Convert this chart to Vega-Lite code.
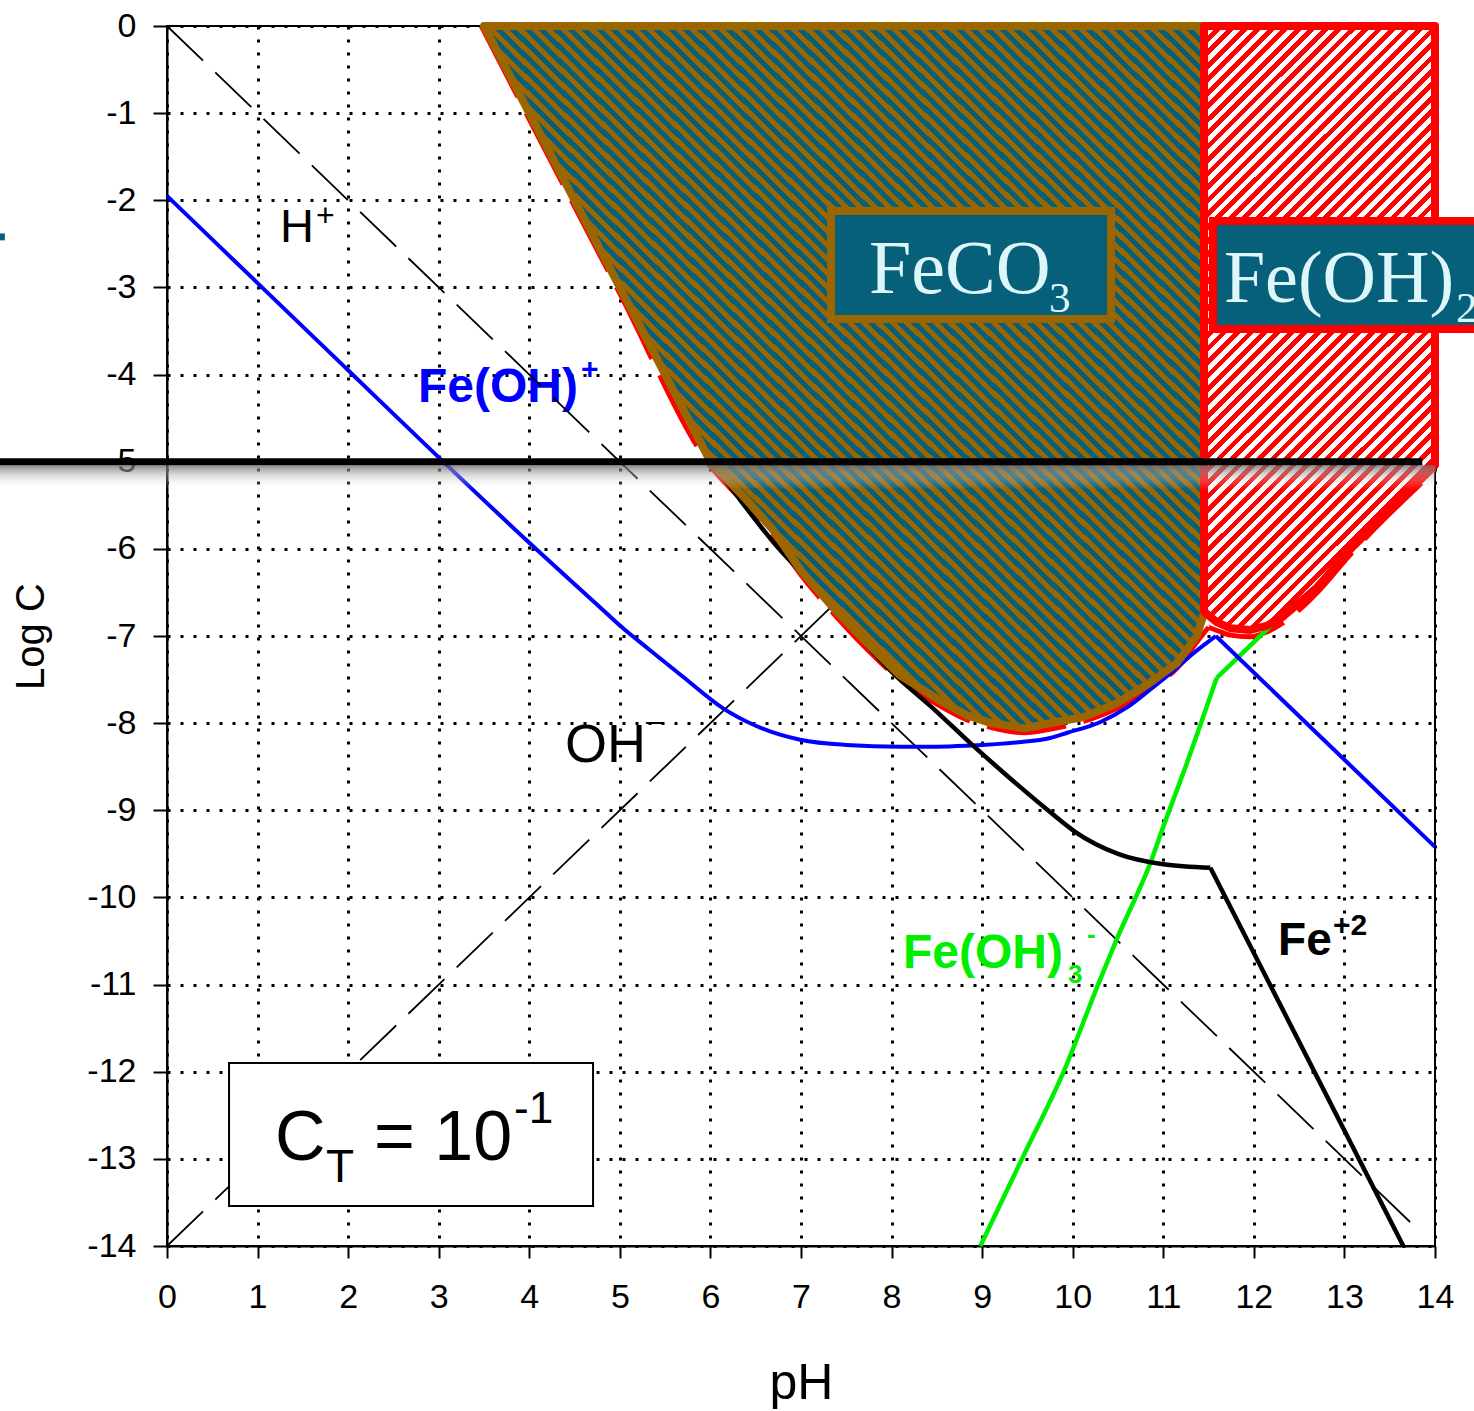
{
"$schema":"https://vega.github.io/schema/vega-lite/v6.json",
"width":1268,"height":1220,
"autosize":{"type":"none"},
"padding":{"left":167,"top":26,"right":39,"bottom":165},
"background":"white",
"config":{"view":{"stroke":"black","strokeWidth":2}},
"encoding":{
"x":{"field":"x","type":"quantitative","scale":{"domain":[0,14],"nice":false,"zero":false},
"axis":{"title":"pH","values":[0,1,2,3,4,5,6,7,8,9,10,11,12,13,14],"labelExpr":"'' + datum.value","labelFlush":false,"labelOverlap":false,"grid":true,"gridColor":"black","gridDash":[3,10],"gridWidth":3,"gridOpacity":1,"domainColor":"black","domainWidth":2,"tickColor":"black","tickWidth":2,"tickSize":12,"labelFont":"Liberation Sans","labelFontSize":34,"labelColor":"black","labelPadding":22,"titleFont":"Liberation Sans","titleFontSize":50,"titleFontWeight":"normal","titleColor":"black","titleX":634,"titleY":152,"titleBaseline":"alphabetic","titleAlign":"center"}},
"y":{"field":"y","type":"quantitative","scale":{"domain":[-14,0],"nice":false,"zero":false},
"axis":{"title":"Log C","values":[0,-1,-2,-3,-4,-5,-6,-7,-8,-9,-10,-11,-12,-13,-14],"labelExpr":"'' + datum.value","labelOverlap":false,"grid":true,"gridColor":"black","gridDash":[3,10],"gridWidth":3,"gridOpacity":1,"domainColor":"black","domainWidth":2,"tickColor":"black","tickWidth":2,"tickSize":14,"labelFont":"Liberation Sans","labelFontSize":34,"labelColor":"black","labelPadding":17,"titleFont":"Liberation Sans","titleFontSize":40,"titleFontWeight":"normal","titleColor":"black","titleX":-124,"titleY":610,"titleAngle":-90,"titleBaseline":"alphabetic","titleAlign":"center"}}
},
"layer":[
{"data":{"values":[{"x":1.248,"y":-2.479,"t":"H"}]},
"mark":{"type":"text","font":"Liberation Sans","fontSize":47,"color":"black","align":"left","baseline":"alphabetic"},"encoding":{"text":{"field":"t"}}},
{"data":{"values":[{"x":4.394,"y":-8.446,"t":"OH"}]},
"mark":{"type":"text","font":"Liberation Sans","fontSize":54,"color":"black","align":"left","baseline":"alphabetic"},"encoding":{"text":{"field":"t"}}},
{"data":{"values":[{"x":1.645,"y":-2.295,"t":"+"},{"x":5.29,"y":-8.09,"t":"–"}]},
"mark":{"type":"text","font":"Liberation Sans","fontSize":32,"color":"black","align":"left","baseline":"alphabetic"},"encoding":{"text":{"field":"t"}}},
{"data":{"values":[{"x":2.771,"y":-4.315,"t":"Fe(OH)"}]},
"mark":{"type":"text","font":"Liberation Sans","fontSize":48,"fontWeight":"bold","color":"#0000ff","align":"left","baseline":"alphabetic"},"encoding":{"text":{"field":"t"}}},
{"data":{"values":[{"x":4.571,"y":-4.05,"t":"+"}]},
"mark":{"type":"text","font":"Liberation Sans","fontSize":30,"fontWeight":"bold","color":"#0000ff","align":"left","baseline":"alphabetic"},"encoding":{"text":{"field":"t"}}},
{"data":{"values":[{"x":8.126,"y":-10.81,"t":"Fe(OH)"}]},
"mark":{"type":"text","font":"Liberation Sans","fontSize":48,"fontWeight":"bold","color":"#00ee00","align":"left","baseline":"alphabetic"},"encoding":{"text":{"field":"t"}}},
{"data":{"values":[{"x":9.948,"y":-10.98,"t":"3"},{"x":10.158,"y":-10.52,"t":"-"}]},
"mark":{"type":"text","font":"Liberation Sans","fontSize":26,"fontWeight":"bold","color":"#00ee00","align":"left","baseline":"alphabetic"},"encoding":{"text":{"field":"t"}}},
{"data":{"values":[{"x":12.267,"y":-10.661,"t":"Fe"}]},
"mark":{"type":"text","font":"Liberation Sans","fontSize":46,"fontWeight":"bold","color":"black","align":"left","baseline":"alphabetic"},"encoding":{"text":{"field":"t"}}},
{"data":{"values":[{"x":12.874,"y":-10.43,"t":"+2"}]},
"mark":{"type":"text","font":"Liberation Sans","fontSize":30,"fontWeight":"bold","color":"black","align":"left","baseline":"alphabetic"},"encoding":{"text":{"field":"t"}}},
{"data":{"values":[{"s":"H","x":0,"y":0},{"s":"H","x":13.85,"y":-13.85},{"s":"OH","x":0,"y":-14},{"s":"OH","x":7.4,"y":-6.6}]},
"mark":{"type":"line","color":"black","strokeWidth":1.8,"strokeDash":[50,17]},"encoding":{"detail":{"field":"s"}}},
{"data":{"values":[{"s":"a","x":3.47,"y":0},{"s":"a","x":4.0,"y":-1.07},{"s":"a","x":5.0,"y":-3.07},{"s":"a","x":6.0,"y":-5.05},{"s":"a","x":6.4,"y":-5.5},{"s":"a","x":6.69,"y":-5.85},{"s":"a","x":7.0,"y":-6.3},{"s":"a","x":7.35,"y":-6.73},{"s":"a","x":7.7,"y":-7.12},{"s":"a","x":8.09,"y":-7.5},{"s":"a","x":8.5,"y":-7.78},{"s":"a","x":8.83,"y":-7.96},{"s":"a","x":9.1,"y":-8.05},{"s":"a","x":9.47,"y":-8.11},{"s":"a","x":9.75,"y":-8.07},{"s":"a","x":10.12,"y":-7.98},{"s":"a","x":10.49,"y":-7.83},{"s":"a","x":10.85,"y":-7.6},{"s":"a","x":11.15,"y":-7.37},{"s":"a","x":11.37,"y":-7.07},{"s":"a","x":11.5,"y":-6.9},{"s":"b","x":11.5,"y":-6.9},{"s":"b","x":11.6,"y":-6.94},{"s":"b","x":11.74,"y":-6.99},{"s":"b","x":11.96,"y":-7.01},{"s":"b","x":12.15,"y":-6.95},{"s":"b","x":12.32,"y":-6.85},{"s":"b","x":12.7,"y":-6.5},{"s":"b","x":13.06,"y":-6.07},{"s":"b","x":14.0,"y":-5.1}]},
"mark":{"type":"line","color":"#ff0000","strokeWidth":5,"strokeDash":[80,18],"interpolate":"monotone"},"encoding":{"detail":{"field":"s"}}},
{"data":{"values":[{"s":"a","x":8.98,"y":-14.0},{"s":"a","x":9.44,"y":-13.0},{"s":"a","x":9.9,"y":-12.0},{"s":"a","x":10.28,"y":-11.0},{"s":"a","x":10.49,"y":-10.47},{"s":"a","x":10.87,"y":-9.57},{"s":"a","x":11.0,"y":-9.19},{"s":"a","x":11.26,"y":-8.46},{"s":"a","x":11.59,"y":-7.48},{"s":"b","x":11.59,"y":-7.48},{"s":"b","x":13.06,"y":-6.01},{"s":"b","x":14.0,"y":-5.07}]},
"mark":{"type":"line","color":"#00ee00","strokeWidth":4.5,"interpolate":"monotone"},"encoding":{"detail":{"field":"s"}}},
{"data":{"values":[{"s":"a","x":0,"y":-1.95},{"s":"a","x":1,"y":-2.95},{"s":"a","x":2,"y":-3.95},{"s":"a","x":3,"y":-4.95},{"s":"a","x":4,"y":-5.93},{"s":"a","x":4.78,"y":-6.67},{"s":"a","x":5.0,"y":-6.88},{"s":"a","x":5.33,"y":-7.16},{"s":"a","x":5.7,"y":-7.47},{"s":"a","x":6.14,"y":-7.83},{"s":"a","x":6.5,"y":-8.03},{"s":"a","x":6.99,"y":-8.19},{"s":"a","x":7.5,"y":-8.25},{"s":"a","x":8.09,"y":-8.27},{"s":"a","x":8.5,"y":-8.27},{"s":"a","x":8.83,"y":-8.26},{"s":"a","x":9.4,"y":-8.22},{"s":"a","x":9.75,"y":-8.17},{"s":"a","x":9.94,"y":-8.11},{"s":"a","x":10.3,"y":-7.99},{"s":"a","x":10.6,"y":-7.82},{"s":"a","x":10.85,"y":-7.62},{"s":"a","x":11.1,"y":-7.41},{"s":"a","x":11.33,"y":-7.2},{"s":"a","x":11.58,"y":-7.0},{"s":"b","x":11.58,"y":-7.0},{"s":"b","x":14,"y":-9.42}]},
"mark":{"type":"line","color":"#0000ff","strokeWidth":4,"interpolate":"monotone"},"encoding":{"detail":{"field":"s"}}},
{"data":{"values":[{"s":"a","x":3.5,"y":0},{"s":"a","x":4.0,"y":-1.0},{"s":"a","x":4.5,"y":-2.0},{"s":"a","x":5.0,"y":-3.0},{"s":"a","x":5.5,"y":-3.99},{"s":"a","x":6.0,"y":-4.97},{"s":"a","x":6.33,"y":-5.44},{"s":"a","x":6.7,"y":-5.93},{"s":"a","x":7.13,"y":-6.41},{"s":"a","x":7.5,"y":-6.84},{"s":"a","x":7.98,"y":-7.39},{"s":"a","x":8.5,"y":-7.87},{"s":"a","x":8.87,"y":-8.23},{"s":"a","x":9.25,"y":-8.58},{"s":"a","x":9.75,"y":-9.02},{"s":"a","x":10.03,"y":-9.25},{"s":"a","x":10.5,"y":-9.5},{"s":"a","x":11.0,"y":-9.62},{"s":"a","x":11.52,"y":-9.66},{"s":"b","x":11.52,"y":-9.66},{"s":"b","x":13.65,"y":-14.0}]},
"mark":{"type":"line","color":"black","strokeWidth":4.5,"interpolate":"monotone"},"encoding":{"detail":{"field":"s"}}},
{"data":{"values":[{"x":3.5,"y":0,"y2":0},{"x":4.0,"y":-1.0,"y2":0},{"x":5.0,"y":-3.0,"y2":0},{"x":6.0,"y":-5.0,"y2":0},{"x":6.4,"y":-5.44,"y2":0},{"x":6.69,"y":-5.78,"y2":0},{"x":7.0,"y":-6.25,"y2":0},{"x":7.35,"y":-6.67,"y2":0},{"x":7.7,"y":-7.05,"y2":0},{"x":8.09,"y":-7.45,"y2":0},{"x":8.5,"y":-7.72,"y2":0},{"x":8.83,"y":-7.91,"y2":0},{"x":9.1,"y":-8.0,"y2":0},{"x":9.47,"y":-8.06,"y2":0},{"x":9.75,"y":-8.0,"y2":0},{"x":10.12,"y":-7.93,"y2":0},{"x":10.49,"y":-7.77,"y2":0},{"x":10.85,"y":-7.54,"y2":0},{"x":11.15,"y":-7.31,"y2":0},{"x":11.37,"y":-7.0,"y2":0},{"x":11.45,"y":-6.74,"y2":0}]},
"mark":{"type":"area","stroke":"#9b6500","strokeWidth":8,"strokeJoin":"round","fill":{"gradient":"linear","x1":0,"y1":1,"x2":1,"y2":0,"stops":[
{"offset":0,"color":"#9b6500"},{"offset":0.005,"color":"#9b6500"},{"offset":0.005,"color":"#07607a"},{"offset":0.01,"color":"#07607a"},
{"offset":0.01,"color":"#9b6500"},{"offset":0.015,"color":"#9b6500"},{"offset":0.015,"color":"#07607a"},{"offset":0.02,"color":"#07607a"},
{"offset":0.02,"color":"#9b6500"},{"offset":0.025,"color":"#9b6500"},{"offset":0.025,"color":"#07607a"},{"offset":0.03,"color":"#07607a"},
{"offset":0.03,"color":"#9b6500"},{"offset":0.035,"color":"#9b6500"},{"offset":0.035,"color":"#07607a"},{"offset":0.04,"color":"#07607a"},
{"offset":0.04,"color":"#9b6500"},{"offset":0.045,"color":"#9b6500"},{"offset":0.045,"color":"#07607a"},{"offset":0.05,"color":"#07607a"},
{"offset":0.05,"color":"#9b6500"},{"offset":0.055,"color":"#9b6500"},{"offset":0.055,"color":"#07607a"},{"offset":0.06,"color":"#07607a"},
{"offset":0.06,"color":"#9b6500"},{"offset":0.065,"color":"#9b6500"},{"offset":0.065,"color":"#07607a"},{"offset":0.07,"color":"#07607a"},
{"offset":0.07,"color":"#9b6500"},{"offset":0.075,"color":"#9b6500"},{"offset":0.075,"color":"#07607a"},{"offset":0.08,"color":"#07607a"},
{"offset":0.08,"color":"#9b6500"},{"offset":0.085,"color":"#9b6500"},{"offset":0.085,"color":"#07607a"},{"offset":0.09,"color":"#07607a"},
{"offset":0.09,"color":"#9b6500"},{"offset":0.095,"color":"#9b6500"},{"offset":0.095,"color":"#07607a"},{"offset":0.1,"color":"#07607a"},
{"offset":0.1,"color":"#9b6500"},{"offset":0.105,"color":"#9b6500"},{"offset":0.105,"color":"#07607a"},{"offset":0.11,"color":"#07607a"},
{"offset":0.11,"color":"#9b6500"},{"offset":0.115,"color":"#9b6500"},{"offset":0.115,"color":"#07607a"},{"offset":0.12,"color":"#07607a"},
{"offset":0.12,"color":"#9b6500"},{"offset":0.125,"color":"#9b6500"},{"offset":0.125,"color":"#07607a"},{"offset":0.13,"color":"#07607a"},
{"offset":0.13,"color":"#9b6500"},{"offset":0.135,"color":"#9b6500"},{"offset":0.135,"color":"#07607a"},{"offset":0.14,"color":"#07607a"},
{"offset":0.14,"color":"#9b6500"},{"offset":0.145,"color":"#9b6500"},{"offset":0.145,"color":"#07607a"},{"offset":0.15,"color":"#07607a"},
{"offset":0.15,"color":"#9b6500"},{"offset":0.155,"color":"#9b6500"},{"offset":0.155,"color":"#07607a"},{"offset":0.16,"color":"#07607a"},
{"offset":0.16,"color":"#9b6500"},{"offset":0.165,"color":"#9b6500"},{"offset":0.165,"color":"#07607a"},{"offset":0.17,"color":"#07607a"},
{"offset":0.17,"color":"#9b6500"},{"offset":0.175,"color":"#9b6500"},{"offset":0.175,"color":"#07607a"},{"offset":0.18,"color":"#07607a"},
{"offset":0.18,"color":"#9b6500"},{"offset":0.185,"color":"#9b6500"},{"offset":0.185,"color":"#07607a"},{"offset":0.19,"color":"#07607a"},
{"offset":0.19,"color":"#9b6500"},{"offset":0.195,"color":"#9b6500"},{"offset":0.195,"color":"#07607a"},{"offset":0.2,"color":"#07607a"},
{"offset":0.2,"color":"#9b6500"},{"offset":0.205,"color":"#9b6500"},{"offset":0.205,"color":"#07607a"},{"offset":0.21,"color":"#07607a"},
{"offset":0.21,"color":"#9b6500"},{"offset":0.215,"color":"#9b6500"},{"offset":0.215,"color":"#07607a"},{"offset":0.22,"color":"#07607a"},
{"offset":0.22,"color":"#9b6500"},{"offset":0.225,"color":"#9b6500"},{"offset":0.225,"color":"#07607a"},{"offset":0.23,"color":"#07607a"},
{"offset":0.23,"color":"#9b6500"},{"offset":0.235,"color":"#9b6500"},{"offset":0.235,"color":"#07607a"},{"offset":0.24,"color":"#07607a"},
{"offset":0.24,"color":"#9b6500"},{"offset":0.245,"color":"#9b6500"},{"offset":0.245,"color":"#07607a"},{"offset":0.25,"color":"#07607a"},
{"offset":0.25,"color":"#9b6500"},{"offset":0.255,"color":"#9b6500"},{"offset":0.255,"color":"#07607a"},{"offset":0.26,"color":"#07607a"},
{"offset":0.26,"color":"#9b6500"},{"offset":0.265,"color":"#9b6500"},{"offset":0.265,"color":"#07607a"},{"offset":0.27,"color":"#07607a"},
{"offset":0.27,"color":"#9b6500"},{"offset":0.275,"color":"#9b6500"},{"offset":0.275,"color":"#07607a"},{"offset":0.28,"color":"#07607a"},
{"offset":0.28,"color":"#9b6500"},{"offset":0.285,"color":"#9b6500"},{"offset":0.285,"color":"#07607a"},{"offset":0.29,"color":"#07607a"},
{"offset":0.29,"color":"#9b6500"},{"offset":0.295,"color":"#9b6500"},{"offset":0.295,"color":"#07607a"},{"offset":0.3,"color":"#07607a"},
{"offset":0.3,"color":"#9b6500"},{"offset":0.305,"color":"#9b6500"},{"offset":0.305,"color":"#07607a"},{"offset":0.31,"color":"#07607a"},
{"offset":0.31,"color":"#9b6500"},{"offset":0.315,"color":"#9b6500"},{"offset":0.315,"color":"#07607a"},{"offset":0.32,"color":"#07607a"},
{"offset":0.32,"color":"#9b6500"},{"offset":0.325,"color":"#9b6500"},{"offset":0.325,"color":"#07607a"},{"offset":0.33,"color":"#07607a"},
{"offset":0.33,"color":"#9b6500"},{"offset":0.335,"color":"#9b6500"},{"offset":0.335,"color":"#07607a"},{"offset":0.34,"color":"#07607a"},
{"offset":0.34,"color":"#9b6500"},{"offset":0.345,"color":"#9b6500"},{"offset":0.345,"color":"#07607a"},{"offset":0.35,"color":"#07607a"},
{"offset":0.35,"color":"#9b6500"},{"offset":0.355,"color":"#9b6500"},{"offset":0.355,"color":"#07607a"},{"offset":0.36,"color":"#07607a"},
{"offset":0.36,"color":"#9b6500"},{"offset":0.365,"color":"#9b6500"},{"offset":0.365,"color":"#07607a"},{"offset":0.37,"color":"#07607a"},
{"offset":0.37,"color":"#9b6500"},{"offset":0.375,"color":"#9b6500"},{"offset":0.375,"color":"#07607a"},{"offset":0.38,"color":"#07607a"},
{"offset":0.38,"color":"#9b6500"},{"offset":0.385,"color":"#9b6500"},{"offset":0.385,"color":"#07607a"},{"offset":0.39,"color":"#07607a"},
{"offset":0.39,"color":"#9b6500"},{"offset":0.395,"color":"#9b6500"},{"offset":0.395,"color":"#07607a"},{"offset":0.4,"color":"#07607a"},
{"offset":0.4,"color":"#9b6500"},{"offset":0.405,"color":"#9b6500"},{"offset":0.405,"color":"#07607a"},{"offset":0.41,"color":"#07607a"},
{"offset":0.41,"color":"#9b6500"},{"offset":0.415,"color":"#9b6500"},{"offset":0.415,"color":"#07607a"},{"offset":0.42,"color":"#07607a"},
{"offset":0.42,"color":"#9b6500"},{"offset":0.425,"color":"#9b6500"},{"offset":0.425,"color":"#07607a"},{"offset":0.43,"color":"#07607a"},
{"offset":0.43,"color":"#9b6500"},{"offset":0.435,"color":"#9b6500"},{"offset":0.435,"color":"#07607a"},{"offset":0.44,"color":"#07607a"},
{"offset":0.44,"color":"#9b6500"},{"offset":0.445,"color":"#9b6500"},{"offset":0.445,"color":"#07607a"},{"offset":0.45,"color":"#07607a"},
{"offset":0.45,"color":"#9b6500"},{"offset":0.455,"color":"#9b6500"},{"offset":0.455,"color":"#07607a"},{"offset":0.46,"color":"#07607a"},
{"offset":0.46,"color":"#9b6500"},{"offset":0.465,"color":"#9b6500"},{"offset":0.465,"color":"#07607a"},{"offset":0.47,"color":"#07607a"},
{"offset":0.47,"color":"#9b6500"},{"offset":0.475,"color":"#9b6500"},{"offset":0.475,"color":"#07607a"},{"offset":0.48,"color":"#07607a"},
{"offset":0.48,"color":"#9b6500"},{"offset":0.485,"color":"#9b6500"},{"offset":0.485,"color":"#07607a"},{"offset":0.49,"color":"#07607a"},
{"offset":0.49,"color":"#9b6500"},{"offset":0.495,"color":"#9b6500"},{"offset":0.495,"color":"#07607a"},{"offset":0.5,"color":"#07607a"},
{"offset":0.5,"color":"#9b6500"},{"offset":0.505,"color":"#9b6500"},{"offset":0.505,"color":"#07607a"},{"offset":0.51,"color":"#07607a"},
{"offset":0.51,"color":"#9b6500"},{"offset":0.515,"color":"#9b6500"},{"offset":0.515,"color":"#07607a"},{"offset":0.52,"color":"#07607a"},
{"offset":0.52,"color":"#9b6500"},{"offset":0.525,"color":"#9b6500"},{"offset":0.525,"color":"#07607a"},{"offset":0.53,"color":"#07607a"},
{"offset":0.53,"color":"#9b6500"},{"offset":0.535,"color":"#9b6500"},{"offset":0.535,"color":"#07607a"},{"offset":0.54,"color":"#07607a"},
{"offset":0.54,"color":"#9b6500"},{"offset":0.545,"color":"#9b6500"},{"offset":0.545,"color":"#07607a"},{"offset":0.55,"color":"#07607a"},
{"offset":0.55,"color":"#9b6500"},{"offset":0.555,"color":"#9b6500"},{"offset":0.555,"color":"#07607a"},{"offset":0.56,"color":"#07607a"},
{"offset":0.56,"color":"#9b6500"},{"offset":0.565,"color":"#9b6500"},{"offset":0.565,"color":"#07607a"},{"offset":0.57,"color":"#07607a"},
{"offset":0.57,"color":"#9b6500"},{"offset":0.575,"color":"#9b6500"},{"offset":0.575,"color":"#07607a"},{"offset":0.58,"color":"#07607a"},
{"offset":0.58,"color":"#9b6500"},{"offset":0.585,"color":"#9b6500"},{"offset":0.585,"color":"#07607a"},{"offset":0.59,"color":"#07607a"},
{"offset":0.59,"color":"#9b6500"},{"offset":0.595,"color":"#9b6500"},{"offset":0.595,"color":"#07607a"},{"offset":0.6,"color":"#07607a"},
{"offset":0.6,"color":"#9b6500"},{"offset":0.605,"color":"#9b6500"},{"offset":0.605,"color":"#07607a"},{"offset":0.61,"color":"#07607a"},
{"offset":0.61,"color":"#9b6500"},{"offset":0.615,"color":"#9b6500"},{"offset":0.615,"color":"#07607a"},{"offset":0.62,"color":"#07607a"},
{"offset":0.62,"color":"#9b6500"},{"offset":0.625,"color":"#9b6500"},{"offset":0.625,"color":"#07607a"},{"offset":0.63,"color":"#07607a"},
{"offset":0.63,"color":"#9b6500"},{"offset":0.635,"color":"#9b6500"},{"offset":0.635,"color":"#07607a"},{"offset":0.64,"color":"#07607a"},
{"offset":0.64,"color":"#9b6500"},{"offset":0.645,"color":"#9b6500"},{"offset":0.645,"color":"#07607a"},{"offset":0.65,"color":"#07607a"},
{"offset":0.65,"color":"#9b6500"},{"offset":0.655,"color":"#9b6500"},{"offset":0.655,"color":"#07607a"},{"offset":0.66,"color":"#07607a"},
{"offset":0.66,"color":"#9b6500"},{"offset":0.665,"color":"#9b6500"},{"offset":0.665,"color":"#07607a"},{"offset":0.67,"color":"#07607a"},
{"offset":0.67,"color":"#9b6500"},{"offset":0.675,"color":"#9b6500"},{"offset":0.675,"color":"#07607a"},{"offset":0.68,"color":"#07607a"},
{"offset":0.68,"color":"#9b6500"},{"offset":0.685,"color":"#9b6500"},{"offset":0.685,"color":"#07607a"},{"offset":0.69,"color":"#07607a"},
{"offset":0.69,"color":"#9b6500"},{"offset":0.695,"color":"#9b6500"},{"offset":0.695,"color":"#07607a"},{"offset":0.7,"color":"#07607a"},
{"offset":0.7,"color":"#9b6500"},{"offset":0.705,"color":"#9b6500"},{"offset":0.705,"color":"#07607a"},{"offset":0.71,"color":"#07607a"},
{"offset":0.71,"color":"#9b6500"},{"offset":0.715,"color":"#9b6500"},{"offset":0.715,"color":"#07607a"},{"offset":0.72,"color":"#07607a"},
{"offset":0.72,"color":"#9b6500"},{"offset":0.725,"color":"#9b6500"},{"offset":0.725,"color":"#07607a"},{"offset":0.73,"color":"#07607a"},
{"offset":0.73,"color":"#9b6500"},{"offset":0.735,"color":"#9b6500"},{"offset":0.735,"color":"#07607a"},{"offset":0.74,"color":"#07607a"},
{"offset":0.74,"color":"#9b6500"},{"offset":0.745,"color":"#9b6500"},{"offset":0.745,"color":"#07607a"},{"offset":0.75,"color":"#07607a"},
{"offset":0.75,"color":"#9b6500"},{"offset":0.755,"color":"#9b6500"},{"offset":0.755,"color":"#07607a"},{"offset":0.76,"color":"#07607a"},
{"offset":0.76,"color":"#9b6500"},{"offset":0.765,"color":"#9b6500"},{"offset":0.765,"color":"#07607a"},{"offset":0.77,"color":"#07607a"},
{"offset":0.77,"color":"#9b6500"},{"offset":0.775,"color":"#9b6500"},{"offset":0.775,"color":"#07607a"},{"offset":0.78,"color":"#07607a"},
{"offset":0.78,"color":"#9b6500"},{"offset":0.785,"color":"#9b6500"},{"offset":0.785,"color":"#07607a"},{"offset":0.79,"color":"#07607a"},
{"offset":0.79,"color":"#9b6500"},{"offset":0.795,"color":"#9b6500"},{"offset":0.795,"color":"#07607a"},{"offset":0.8,"color":"#07607a"},
{"offset":0.8,"color":"#9b6500"},{"offset":0.805,"color":"#9b6500"},{"offset":0.805,"color":"#07607a"},{"offset":0.81,"color":"#07607a"},
{"offset":0.81,"color":"#9b6500"},{"offset":0.815,"color":"#9b6500"},{"offset":0.815,"color":"#07607a"},{"offset":0.82,"color":"#07607a"},
{"offset":0.82,"color":"#9b6500"},{"offset":0.825,"color":"#9b6500"},{"offset":0.825,"color":"#07607a"},{"offset":0.83,"color":"#07607a"},
{"offset":0.83,"color":"#9b6500"},{"offset":0.835,"color":"#9b6500"},{"offset":0.835,"color":"#07607a"},{"offset":0.84,"color":"#07607a"},
{"offset":0.84,"color":"#9b6500"},{"offset":0.845,"color":"#9b6500"},{"offset":0.845,"color":"#07607a"},{"offset":0.85,"color":"#07607a"},
{"offset":0.85,"color":"#9b6500"},{"offset":0.855,"color":"#9b6500"},{"offset":0.855,"color":"#07607a"},{"offset":0.86,"color":"#07607a"},
{"offset":0.86,"color":"#9b6500"},{"offset":0.865,"color":"#9b6500"},{"offset":0.865,"color":"#07607a"},{"offset":0.87,"color":"#07607a"},
{"offset":0.87,"color":"#9b6500"},{"offset":0.875,"color":"#9b6500"},{"offset":0.875,"color":"#07607a"},{"offset":0.88,"color":"#07607a"},
{"offset":0.88,"color":"#9b6500"},{"offset":0.885,"color":"#9b6500"},{"offset":0.885,"color":"#07607a"},{"offset":0.89,"color":"#07607a"},
{"offset":0.89,"color":"#9b6500"},{"offset":0.895,"color":"#9b6500"},{"offset":0.895,"color":"#07607a"},{"offset":0.9,"color":"#07607a"},
{"offset":0.9,"color":"#9b6500"},{"offset":0.905,"color":"#9b6500"},{"offset":0.905,"color":"#07607a"},{"offset":0.91,"color":"#07607a"},
{"offset":0.91,"color":"#9b6500"},{"offset":0.915,"color":"#9b6500"},{"offset":0.915,"color":"#07607a"},{"offset":0.92,"color":"#07607a"},
{"offset":0.92,"color":"#9b6500"},{"offset":0.925,"color":"#9b6500"},{"offset":0.925,"color":"#07607a"},{"offset":0.93,"color":"#07607a"},
{"offset":0.93,"color":"#9b6500"},{"offset":0.935,"color":"#9b6500"},{"offset":0.935,"color":"#07607a"},{"offset":0.94,"color":"#07607a"},
{"offset":0.94,"color":"#9b6500"},{"offset":0.945,"color":"#9b6500"},{"offset":0.945,"color":"#07607a"},{"offset":0.95,"color":"#07607a"},
{"offset":0.95,"color":"#9b6500"},{"offset":0.955,"color":"#9b6500"},{"offset":0.955,"color":"#07607a"},{"offset":0.96,"color":"#07607a"},
{"offset":0.96,"color":"#9b6500"},{"offset":0.965,"color":"#9b6500"},{"offset":0.965,"color":"#07607a"},{"offset":0.97,"color":"#07607a"},
{"offset":0.97,"color":"#9b6500"},{"offset":0.975,"color":"#9b6500"},{"offset":0.975,"color":"#07607a"},{"offset":0.98,"color":"#07607a"},
{"offset":0.98,"color":"#9b6500"},{"offset":0.985,"color":"#9b6500"},{"offset":0.985,"color":"#07607a"},{"offset":0.99,"color":"#07607a"},
{"offset":0.99,"color":"#9b6500"},{"offset":0.995,"color":"#9b6500"},{"offset":0.995,"color":"#07607a"},{"offset":1,"color":"#07607a"}
]}},
"encoding":{"y2":{"field":"y2"}}},
{"data":{"values":[{"x":11.45,"y":-6.72,"y2":0},{"x":11.59,"y":-6.84,"y2":0},{"x":11.74,"y":-6.91,"y2":0},{"x":11.96,"y":-6.93,"y2":0},{"x":12.15,"y":-6.88,"y2":0},{"x":12.32,"y":-6.78,"y2":0},{"x":12.7,"y":-6.44,"y2":0},{"x":13.06,"y":-6.01,"y2":0},{"x":14.0,"y":-5.04,"y2":0}]},
"mark":{"type":"area","stroke":"#ff0000","strokeWidth":8,"strokeJoin":"round","fill":{"gradient":"linear","x1":0,"y1":0,"x2":0.743,"y2":1.945,"stops":[
{"offset":0,"color":"#ff0000"},{"offset":0.005,"color":"#ff0000"},{"offset":0.005,"color":"#ffffff"},{"offset":0.01,"color":"#ffffff"},
{"offset":0.01,"color":"#ff0000"},{"offset":0.015,"color":"#ff0000"},{"offset":0.015,"color":"#ffffff"},{"offset":0.02,"color":"#ffffff"},
{"offset":0.02,"color":"#ff0000"},{"offset":0.025,"color":"#ff0000"},{"offset":0.025,"color":"#ffffff"},{"offset":0.03,"color":"#ffffff"},
{"offset":0.03,"color":"#ff0000"},{"offset":0.035,"color":"#ff0000"},{"offset":0.035,"color":"#ffffff"},{"offset":0.04,"color":"#ffffff"},
{"offset":0.04,"color":"#ff0000"},{"offset":0.045,"color":"#ff0000"},{"offset":0.045,"color":"#ffffff"},{"offset":0.05,"color":"#ffffff"},
{"offset":0.05,"color":"#ff0000"},{"offset":0.055,"color":"#ff0000"},{"offset":0.055,"color":"#ffffff"},{"offset":0.06,"color":"#ffffff"},
{"offset":0.06,"color":"#ff0000"},{"offset":0.065,"color":"#ff0000"},{"offset":0.065,"color":"#ffffff"},{"offset":0.07,"color":"#ffffff"},
{"offset":0.07,"color":"#ff0000"},{"offset":0.075,"color":"#ff0000"},{"offset":0.075,"color":"#ffffff"},{"offset":0.08,"color":"#ffffff"},
{"offset":0.08,"color":"#ff0000"},{"offset":0.085,"color":"#ff0000"},{"offset":0.085,"color":"#ffffff"},{"offset":0.09,"color":"#ffffff"},
{"offset":0.09,"color":"#ff0000"},{"offset":0.095,"color":"#ff0000"},{"offset":0.095,"color":"#ffffff"},{"offset":0.1,"color":"#ffffff"},
{"offset":0.1,"color":"#ff0000"},{"offset":0.105,"color":"#ff0000"},{"offset":0.105,"color":"#ffffff"},{"offset":0.11,"color":"#ffffff"},
{"offset":0.11,"color":"#ff0000"},{"offset":0.115,"color":"#ff0000"},{"offset":0.115,"color":"#ffffff"},{"offset":0.12,"color":"#ffffff"},
{"offset":0.12,"color":"#ff0000"},{"offset":0.125,"color":"#ff0000"},{"offset":0.125,"color":"#ffffff"},{"offset":0.13,"color":"#ffffff"},
{"offset":0.13,"color":"#ff0000"},{"offset":0.135,"color":"#ff0000"},{"offset":0.135,"color":"#ffffff"},{"offset":0.14,"color":"#ffffff"},
{"offset":0.14,"color":"#ff0000"},{"offset":0.145,"color":"#ff0000"},{"offset":0.145,"color":"#ffffff"},{"offset":0.15,"color":"#ffffff"},
{"offset":0.15,"color":"#ff0000"},{"offset":0.155,"color":"#ff0000"},{"offset":0.155,"color":"#ffffff"},{"offset":0.16,"color":"#ffffff"},
{"offset":0.16,"color":"#ff0000"},{"offset":0.165,"color":"#ff0000"},{"offset":0.165,"color":"#ffffff"},{"offset":0.17,"color":"#ffffff"},
{"offset":0.17,"color":"#ff0000"},{"offset":0.175,"color":"#ff0000"},{"offset":0.175,"color":"#ffffff"},{"offset":0.18,"color":"#ffffff"},
{"offset":0.18,"color":"#ff0000"},{"offset":0.185,"color":"#ff0000"},{"offset":0.185,"color":"#ffffff"},{"offset":0.19,"color":"#ffffff"},
{"offset":0.19,"color":"#ff0000"},{"offset":0.195,"color":"#ff0000"},{"offset":0.195,"color":"#ffffff"},{"offset":0.2,"color":"#ffffff"},
{"offset":0.2,"color":"#ff0000"},{"offset":0.205,"color":"#ff0000"},{"offset":0.205,"color":"#ffffff"},{"offset":0.21,"color":"#ffffff"},
{"offset":0.21,"color":"#ff0000"},{"offset":0.215,"color":"#ff0000"},{"offset":0.215,"color":"#ffffff"},{"offset":0.22,"color":"#ffffff"},
{"offset":0.22,"color":"#ff0000"},{"offset":0.225,"color":"#ff0000"},{"offset":0.225,"color":"#ffffff"},{"offset":0.23,"color":"#ffffff"},
{"offset":0.23,"color":"#ff0000"},{"offset":0.235,"color":"#ff0000"},{"offset":0.235,"color":"#ffffff"},{"offset":0.24,"color":"#ffffff"},
{"offset":0.24,"color":"#ff0000"},{"offset":0.245,"color":"#ff0000"},{"offset":0.245,"color":"#ffffff"},{"offset":0.25,"color":"#ffffff"},
{"offset":0.25,"color":"#ff0000"},{"offset":0.255,"color":"#ff0000"},{"offset":0.255,"color":"#ffffff"},{"offset":0.26,"color":"#ffffff"},
{"offset":0.26,"color":"#ff0000"},{"offset":0.265,"color":"#ff0000"},{"offset":0.265,"color":"#ffffff"},{"offset":0.27,"color":"#ffffff"},
{"offset":0.27,"color":"#ff0000"},{"offset":0.275,"color":"#ff0000"},{"offset":0.275,"color":"#ffffff"},{"offset":0.28,"color":"#ffffff"},
{"offset":0.28,"color":"#ff0000"},{"offset":0.285,"color":"#ff0000"},{"offset":0.285,"color":"#ffffff"},{"offset":0.29,"color":"#ffffff"},
{"offset":0.29,"color":"#ff0000"},{"offset":0.295,"color":"#ff0000"},{"offset":0.295,"color":"#ffffff"},{"offset":0.3,"color":"#ffffff"},
{"offset":0.3,"color":"#ff0000"},{"offset":0.305,"color":"#ff0000"},{"offset":0.305,"color":"#ffffff"},{"offset":0.31,"color":"#ffffff"},
{"offset":0.31,"color":"#ff0000"},{"offset":0.315,"color":"#ff0000"},{"offset":0.315,"color":"#ffffff"},{"offset":0.32,"color":"#ffffff"},
{"offset":0.32,"color":"#ff0000"},{"offset":0.325,"color":"#ff0000"},{"offset":0.325,"color":"#ffffff"},{"offset":0.33,"color":"#ffffff"},
{"offset":0.33,"color":"#ff0000"},{"offset":0.335,"color":"#ff0000"},{"offset":0.335,"color":"#ffffff"},{"offset":0.34,"color":"#ffffff"},
{"offset":0.34,"color":"#ff0000"},{"offset":0.345,"color":"#ff0000"},{"offset":0.345,"color":"#ffffff"},{"offset":0.35,"color":"#ffffff"},
{"offset":0.35,"color":"#ff0000"},{"offset":0.355,"color":"#ff0000"},{"offset":0.355,"color":"#ffffff"},{"offset":0.36,"color":"#ffffff"},
{"offset":0.36,"color":"#ff0000"},{"offset":0.365,"color":"#ff0000"},{"offset":0.365,"color":"#ffffff"},{"offset":0.37,"color":"#ffffff"},
{"offset":0.37,"color":"#ff0000"},{"offset":0.375,"color":"#ff0000"},{"offset":0.375,"color":"#ffffff"},{"offset":0.38,"color":"#ffffff"},
{"offset":0.38,"color":"#ff0000"},{"offset":0.385,"color":"#ff0000"},{"offset":0.385,"color":"#ffffff"},{"offset":0.39,"color":"#ffffff"},
{"offset":0.39,"color":"#ff0000"},{"offset":0.395,"color":"#ff0000"},{"offset":0.395,"color":"#ffffff"},{"offset":0.4,"color":"#ffffff"},
{"offset":0.4,"color":"#ff0000"},{"offset":0.405,"color":"#ff0000"},{"offset":0.405,"color":"#ffffff"},{"offset":0.41,"color":"#ffffff"},
{"offset":0.41,"color":"#ff0000"},{"offset":0.415,"color":"#ff0000"},{"offset":0.415,"color":"#ffffff"},{"offset":0.42,"color":"#ffffff"},
{"offset":0.42,"color":"#ff0000"},{"offset":0.425,"color":"#ff0000"},{"offset":0.425,"color":"#ffffff"},{"offset":0.43,"color":"#ffffff"},
{"offset":0.43,"color":"#ff0000"},{"offset":0.435,"color":"#ff0000"},{"offset":0.435,"color":"#ffffff"},{"offset":0.44,"color":"#ffffff"},
{"offset":0.44,"color":"#ff0000"},{"offset":0.445,"color":"#ff0000"},{"offset":0.445,"color":"#ffffff"},{"offset":0.45,"color":"#ffffff"},
{"offset":0.45,"color":"#ff0000"},{"offset":0.455,"color":"#ff0000"},{"offset":0.455,"color":"#ffffff"},{"offset":0.46,"color":"#ffffff"},
{"offset":0.46,"color":"#ff0000"},{"offset":0.465,"color":"#ff0000"},{"offset":0.465,"color":"#ffffff"},{"offset":0.47,"color":"#ffffff"},
{"offset":0.47,"color":"#ff0000"},{"offset":0.475,"color":"#ff0000"},{"offset":0.475,"color":"#ffffff"},{"offset":0.48,"color":"#ffffff"},
{"offset":0.48,"color":"#ff0000"},{"offset":0.485,"color":"#ff0000"},{"offset":0.485,"color":"#ffffff"},{"offset":0.49,"color":"#ffffff"},
{"offset":0.49,"color":"#ff0000"},{"offset":0.495,"color":"#ff0000"},{"offset":0.495,"color":"#ffffff"},{"offset":0.5,"color":"#ffffff"},
{"offset":0.5,"color":"#ff0000"},{"offset":0.505,"color":"#ff0000"},{"offset":0.505,"color":"#ffffff"},{"offset":0.51,"color":"#ffffff"},
{"offset":0.51,"color":"#ff0000"},{"offset":0.515,"color":"#ff0000"},{"offset":0.515,"color":"#ffffff"},{"offset":0.52,"color":"#ffffff"},
{"offset":0.52,"color":"#ff0000"},{"offset":0.525,"color":"#ff0000"},{"offset":0.525,"color":"#ffffff"},{"offset":0.53,"color":"#ffffff"},
{"offset":0.53,"color":"#ff0000"},{"offset":0.535,"color":"#ff0000"},{"offset":0.535,"color":"#ffffff"},{"offset":0.54,"color":"#ffffff"},
{"offset":0.54,"color":"#ff0000"},{"offset":0.545,"color":"#ff0000"},{"offset":0.545,"color":"#ffffff"},{"offset":0.55,"color":"#ffffff"},
{"offset":0.55,"color":"#ff0000"},{"offset":0.555,"color":"#ff0000"},{"offset":0.555,"color":"#ffffff"},{"offset":0.56,"color":"#ffffff"},
{"offset":0.56,"color":"#ff0000"},{"offset":0.565,"color":"#ff0000"},{"offset":0.565,"color":"#ffffff"},{"offset":0.57,"color":"#ffffff"},
{"offset":0.57,"color":"#ff0000"},{"offset":0.575,"color":"#ff0000"},{"offset":0.575,"color":"#ffffff"},{"offset":0.58,"color":"#ffffff"},
{"offset":0.58,"color":"#ff0000"},{"offset":0.585,"color":"#ff0000"},{"offset":0.585,"color":"#ffffff"},{"offset":0.59,"color":"#ffffff"},
{"offset":0.59,"color":"#ff0000"},{"offset":0.595,"color":"#ff0000"},{"offset":0.595,"color":"#ffffff"},{"offset":0.6,"color":"#ffffff"},
{"offset":0.6,"color":"#ff0000"},{"offset":0.605,"color":"#ff0000"},{"offset":0.605,"color":"#ffffff"},{"offset":0.61,"color":"#ffffff"},
{"offset":0.61,"color":"#ff0000"},{"offset":0.615,"color":"#ff0000"},{"offset":0.615,"color":"#ffffff"},{"offset":0.62,"color":"#ffffff"},
{"offset":0.62,"color":"#ff0000"},{"offset":0.625,"color":"#ff0000"},{"offset":0.625,"color":"#ffffff"},{"offset":1,"color":"#ffffff"}
]}},
"encoding":{"y2":{"field":"y2"}}},
{"data":{"values":[{"x":-1.844,"x2":14.0,"y":-5.04,"y2":-5.32}]},
"mark":{"type":"rect","fill":{"gradient":"linear","x1":0,"y1":0,"x2":0,"y2":1,"stops":[{"offset":0,"color":"rgba(110,110,110,0.8)"},{"offset":0.4,"color":"rgba(170,170,170,0.45)"},{"offset":1,"color":"rgba(255,255,255,0)"}]}},
"encoding":{"x2":{"field":"x2"},"y2":{"field":"y2"}}},
{"data":{"values":[{"x":-1.844,"x2":13.86,"y":-5.0}]},
"mark":{"type":"rule","color":"black","strokeWidth":7},
"encoding":{"x2":{"field":"x2"}}},
{"data":{"values":[{"x":-1.844,"x2":-1.79,"y":-2.38,"y2":-2.46}]},
"mark":{"type":"rect","fill":"#07607a"},
"encoding":{"x2":{"field":"x2"},"y2":{"field":"y2"}}},
{"data":{"values":[{"x":7.331,"x2":10.423,"y":-2.123,"y2":-3.362}]},
"mark":{"type":"rect","fill":"#07607a","stroke":"#9b6500","strokeWidth":8},
"encoding":{"x2":{"field":"x2"},"y2":{"field":"y2"}}},
{"data":{"values":[{"x":11.549,"x2":14.8,"y":-2.238,"y2":-3.477}]},
"mark":{"type":"rect","fill":"#07607a","stroke":"#ff0000","strokeWidth":8},
"encoding":{"x2":{"field":"x2"},"y2":{"field":"y2"}}},
{"data":{"values":[{"x":7.751,"y":-3.064,"t":"FeCO"}]},
"mark":{"type":"text","font":"Liberation Serif","fontSize":76,"color":"#ddf6fa","align":"left","baseline":"alphabetic"},"encoding":{"text":{"field":"t"}}},
{"data":{"values":[{"x":11.67,"y":-3.167,"t":"Fe(OH)"}]},
"mark":{"type":"text","font":"Liberation Serif","fontSize":74,"color":"#ddf6fa","align":"left","baseline":"alphabetic"},"encoding":{"text":{"field":"t"}}},
{"data":{"values":[{"x":9.738,"y":-3.282,"t":"3"},{"x":14.232,"y":-3.397,"t":"2"}]},
"mark":{"type":"text","font":"Liberation Serif","fontSize":43,"color":"#ddf6fa","align":"left","baseline":"alphabetic"},"encoding":{"text":{"field":"t"}}},
{"data":{"values":[{"x":0.685,"x2":4.704,"y":-11.9,"y2":-13.54}]},
"mark":{"type":"rect","fill":"white","stroke":"black","strokeWidth":2},
"encoding":{"x2":{"field":"x2"},"y2":{"field":"y2"}}},
{"data":{"values":[{"x":1.192,"y":-13.013,"t":"C"},{"x":2.286,"y":-13.013,"t":"= 10"}]},
"mark":{"type":"text","font":"Liberation Sans","fontSize":70,"color":"black","align":"left","baseline":"alphabetic"},"encoding":{"text":{"field":"t"}}},
{"data":{"values":[{"x":1.756,"y":-13.266,"t":"T"}]},
"mark":{"type":"text","font":"Liberation Sans","fontSize":46,"color":"black","align":"left","baseline":"alphabetic"},"encoding":{"text":{"field":"t"}}},
{"data":{"values":[{"x":3.831,"y":-12.589,"t":"-1"}]},
"mark":{"type":"text","font":"Liberation Sans","fontSize":44,"color":"black","align":"left","baseline":"alphabetic"},"encoding":{"text":{"field":"t"}}}
]
}
